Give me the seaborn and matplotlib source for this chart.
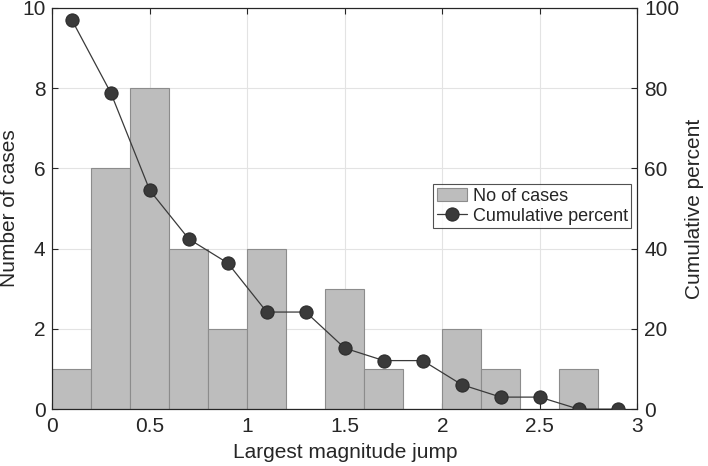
import numpy as np
import seaborn as sns
import matplotlib.pyplot as plt

# bins of the jump magnitude histogram
bin_edges = [0, 0.2, 0.4, 0.6, 0.8, 1.0, 1.2, 1.4, 1.6, 1.8, 2.0, 2.2, 2.4, 2.6, 2.8, 3.0]
bin_centers = [0.1, 0.3, 0.5, 0.7, 0.9, 1.1, 1.3, 1.5, 1.7, 1.9, 2.1, 2.3, 2.5, 2.7, 2.9]
no_of_cases = [1, 6, 8, 4, 2, 4, 0, 3, 1, 0, 2, 1, 0, 1, 0]
cumulative_percent = [97.0, 78.8, 54.5, 42.4, 36.4, 24.2, 24.2, 15.2, 12.1, 12.1, 6.1, 3.0, 3.0, 0.0, 0.0]

sns.set_style("white")
plt.rcParams['font.family'] = ['Liberation Sans', 'DejaVu Sans']

fig = plt.figure(figsize=(7.08, 4.66), dpi=100)
ax = fig.add_axes([0.074, 0.122, 0.826, 0.861])

sns.histplot(x=bin_centers, weights=no_of_cases, bins=bin_edges,
             color="#bdbdbd", edgecolor="#8c8c8c", linewidth=0.8, alpha=1,
             ax=ax, label="No of cases", zorder=2)
ax.set_xlim(0, 3)
ax.set_ylim(0, 10)
ax.set_xticks([0, 0.5, 1, 1.5, 2, 2.5, 3])
ax.set_xticklabels(["0", "0.5", "1", "1.5", "2", "2.5", "3"])
ax.set_yticks([0, 2, 4, 6, 8, 10])
ax.grid(True, color="#e3e3e3", linewidth=0.8, zorder=0)
ax.set_axisbelow(True)
ax.set_xlabel("Largest magnitude jump", fontsize=15, labelpad=5)
ax.set_ylabel("Number of cases", fontsize=15, labelpad=2)
ax.tick_params(axis="x", direction="in", labelsize=15, length=4, color="#262626", pad=6,
               top=True, bottom=True)
ax.tick_params(axis="y", direction="in", labelsize=15, length=4, color="#262626", pad=5,
               left=True, right=False)

ax2 = ax.twinx()
sns.lineplot(x=bin_centers, y=cumulative_percent, ax=ax2, color="#3a3a3a",
             linewidth=0.9, marker="o", markersize=9.5,
             markerfacecolor="#3a3a3a", markeredgecolor="#2a2a2a",
             label="Cumulative percent", legend=False, zorder=3)
ax2.set_ylim(0, 100)
ax2.set_yticks([0, 20, 40, 60, 80, 100])
ax2.set_ylabel("Cumulative percent", fontsize=15, labelpad=4)
ax2.tick_params(direction="in", labelsize=15, length=4, color="#262626", pad=5,
                right=True, left=False)

for a in (ax, ax2):
    for s in a.spines.values():
        s.set_color("#262626")
        s.set_linewidth(0.8)

h1, l1 = ax.get_legend_handles_labels()
h2, l2 = ax2.get_legend_handles_labels()
leg = ax2.legend(h1 + h2, l1 + l2, loc="upper right", bbox_to_anchor=(0.99, 0.56),
                 fontsize=13, frameon=True, fancybox=False, borderpad=0.2,
                 handlelength=1.7, handletextpad=0.3, labelspacing=0.15,
                 borderaxespad=0)
leg.get_frame().set_edgecolor("#262626")
leg.get_frame().set_linewidth(0.8)

fig.savefig("out.png", dpi=100)
